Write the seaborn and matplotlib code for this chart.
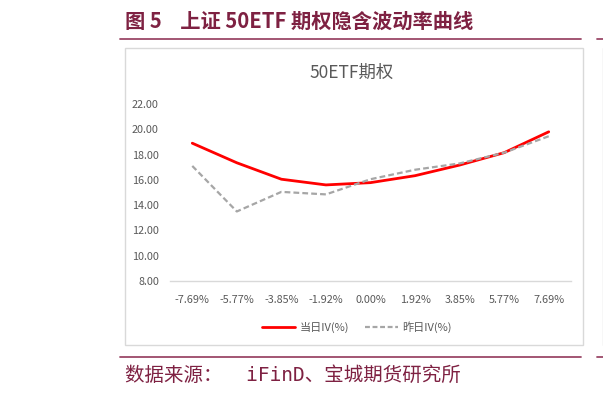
import matplotlib
matplotlib.use("Agg")
import matplotlib.pyplot as plt
import seaborn as sns
import pandas as pd
from matplotlib.lines import Line2D
from matplotlib.patches import Rectangle

categories = ["-7.69%", "-5.77%", "-3.85%", "-1.92%", "0.00%", "1.92%", "3.85%", "5.77%", "7.69%"]
iv_today = [18.9, 17.35, 16.05, 15.6, 15.78, 16.33, 17.17, 18.15, 19.8]
iv_yesterday = [17.1, 13.5, 15.05, 14.85, 16.05, 16.8, 17.3, 18.15, 19.45]
yticks = [8, 10, 12, 14, 16, 18, 20, 22]
series_names = ["当日IV(%)", "昨日IV(%)"]

sns.set_theme(style="white")
plt.rcParams['font.family'] = ['Noto Sans CJK SC', 'DejaVu Sans']

W, H = 603, 394
fig = plt.figure(figsize=(W / 100, H / 100), dpi=100)

def fx(x):
    return x / W

def fy(y):
    return 1 - y / H

maroon_text = "#7E2142"
maroon_line = "#9B4868"

# header and footer
fig.text(fx(125), fy(21), "图 5    上证 50ETF 期权隐含波动率曲线", fontsize=14.6, fontweight="bold",
         color=maroon_text, va="center", ha="left")
fig.add_artist(Line2D([fx(120), fx(581)], [fy(38.5), fy(38.5)], color=maroon_line, lw=1.3))
fig.add_artist(Line2D([fx(597), fx(603)], [fy(38.5), fy(38.5)], color=maroon_line, lw=1.3))
fig.add_artist(Line2D([fx(120), fx(581)], [fy(356.5), fy(356.5)], color=maroon_line, lw=1.3))
fig.add_artist(Line2D([fx(597), fx(603)], [fy(356.5), fy(356.5)], color=maroon_line, lw=1.3))
fig.text(fx(125), fy(375), "数据来源：  iFinD、宝城期货研究所", fontsize=14, color=maroon_text,
         va="center", ha="left", family=['DejaVu Sans Mono', 'Noto Sans CJK SC'])

# chart box
fig.add_artist(Rectangle((fx(125), fy(345)), fx(583) - fx(125), fy(48) - fy(345),
                         transform=fig.transFigure, fill=False, edgecolor="#D9D9D9", lw=1))
fig.add_artist(Line2D([fx(602.5), fx(602.5)], [fy(48), fy(345)], color="#D9D9D9", lw=1))

fig.text(fx(352), fy(73), "50ETF期权", fontsize=12.5, color="#595959", ha="center", va="center")

ax = fig.add_axes([fx(170), fy(281), fx(571) - fx(170), fy(104) - fy(281)])

df = pd.DataFrame({
    "x": list(range(len(categories))) * 2,
    "iv": iv_today + iv_yesterday,
    "series": [series_names[0]] * len(categories) + [series_names[1]] * len(categories),
})

sns.lineplot(data=df, x="x", y="iv", hue="series", style="series",
             palette={series_names[0]: "#FF0000", series_names[1]: "#A6A6A6"},
             dashes={series_names[0]: "", series_names[1]: (2.6, 1.4)},
             size="series", sizes={series_names[0]: 2.0, series_names[1]: 1.6},
             ax=ax, legend=False)

ax.set_xlim(-0.5, len(categories) - 0.5)
ax.set_ylim(8, 22)
ax.set_xticks(range(len(categories)))
ax.set_xticklabels(categories)
ax.set_yticks(yticks)
ax.set_yticklabels([f"{v:.2f}" for v in yticks])
ax.set_xlabel("")
ax.set_ylabel("")
ax.tick_params(axis="both", labelsize=7.8, colors="#595959", length=0)
ax.tick_params(axis="x", pad=10)
ax.tick_params(axis="y", pad=8)
for s in ["top", "right", "left"]:
    ax.spines[s].set_visible(False)
ax.spines["bottom"].set_color("#D9D9D9")
ax.spines["bottom"].set_linewidth(1)
ax.set_facecolor("none")
ax.grid(False)

handles = [Line2D([], [], color="#FF0000", lw=2.0),
           Line2D([], [], color="#A6A6A6", lw=1.6, dashes=(2.2, 1.2))]
fig.legend(handles, series_names, loc="center", bbox_to_anchor=(fx(357), fy(327)), ncol=2,
           frameon=False, fontsize=8, labelcolor="#595959", handlelength=3.0,
           columnspacing=1.4, handletextpad=0.4)

fig.savefig("out.png", dpi=100)
